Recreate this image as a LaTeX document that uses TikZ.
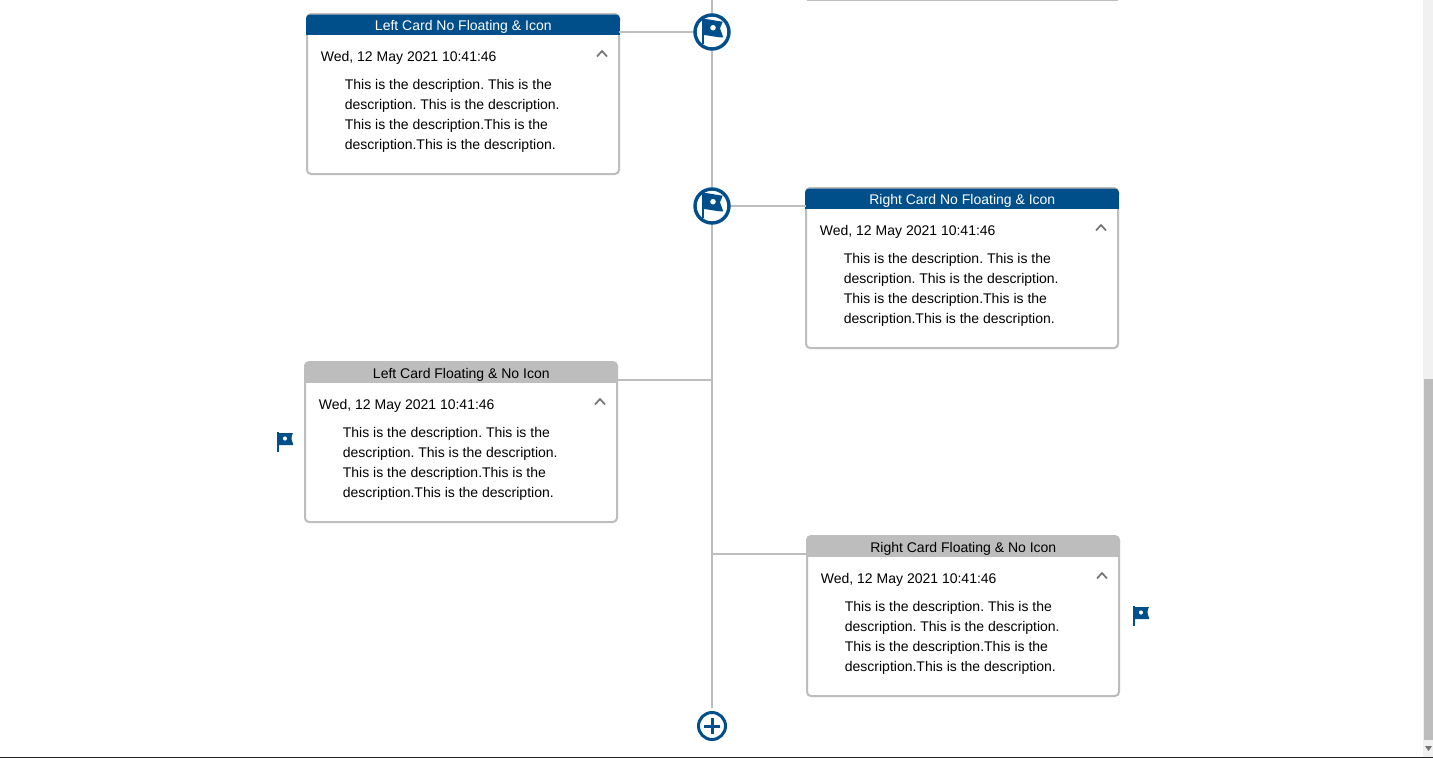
\documentclass[tikz,border=0pt]{standalone}
\usepackage{fontspec}
\setmainfont{Liberation Sans}
\definecolor{brandblue}{HTML}{004F8B}
\definecolor{linegray}{HTML}{BDBDBD}
\definecolor{chevgray}{HTML}{757575}
\definecolor{trackgray}{HTML}{F1F1F1}
\newcommand{\desctext}{This is the description. This is the\\description. This is the description.\\This is the description.This is the\\description.This is the description.}
% #1 name, #2 x, #3 y, #4 title, #5 header fill, #6 title colour
\newcommand{\timecard}[6]{%
  \node[cardbody] (#1) at (#2+157,#3+81) {};
  \fill[#5,rounded corners=4pt] (#2,#3+12) -- (#2,#3+1.5) -- (#2+314,#3+1.5) -- (#2+314,#3+12) -- cycle;
  \fill[#5] (#2,#3+8) rectangle (#2+314,#3+22);
  \node[cardtitle,text=#6] (#1title) at (#2+157.3,#3+14) {#4};
  \node[datetext] (#1date) at (#2+14.7,#3+45) {Wed, 12 May 2021 10:41:46};
  \node[desctextstyle] (#1desc) at (#2+38.7,#3+102.5) {\desctext};
  \draw[chevron] (#2+291,#3+43.5) -- (#2+296,#3+38) -- (#2+301,#3+43.5);
}
% large flag, centred on the ring: #1 centre
\newcommand{\bigflag}[1]{%
  \begin{scope}[shift={(#1)}]
    \fill[brandblue] (-10,-14) rectangle (-8,12);
    \fill[brandblue,even odd rule] (-8.2,-13) .. controls (-3,-13) and (4,-11) .. (10.7,-10.3) -- (8,-3.7) -- (11.3,5.5) .. controls (5,5.5) and (-2,3.5) .. (-8.2,3) -- cycle
      (1,-4.3) circle[radius=2.9];
  \end{scope}
}
% small flag, #1 top left of its pole
\newcommand{\smallflag}[1]{%
  \begin{scope}[shift={(#1)}]
    \fill[brandblue] (0,0) rectangle (1.8,20);
    \fill[brandblue,even odd rule] (1.5,1) -- (16,1) .. controls (14,4) and (14,8) .. (16,11.5) -- (16,13) -- (1.5,13) -- cycle
      (8,6.5) circle[radius=2.2];
  \end{scope}
}
\tikzset{
  x=1pt,y=-1pt,
  cardbody/.style={draw=linegray,line width=2pt,fill=white,rounded corners=4pt,minimum width=312pt,minimum height=160pt,inner sep=0pt,outer sep=0pt},
  cardtitle/.style={font=\fontsize{14}{16}\selectfont,inner sep=0pt,anchor=center},
  datetext/.style={font=\fontsize{14}{16}\selectfont,inner sep=0pt,anchor=west,text=black},
  desctextstyle/.style={font=\fontsize{14}{20}\selectfont,inner sep=0pt,anchor=west,align=left,text=black},
  chevron/.style={draw=chevgray,line width=1.7pt},
  connector/.style={draw=linegray,line width=2pt},
  iconring/.style={circle,draw=brandblue,line width=3.4pt,fill=white,minimum size=34pt,inner sep=0pt},
  plusring/.style={circle,draw=brandblue,line width=3pt,fill=white,minimum size=27pt,inner sep=0pt},
}
\begin{document}
\frenchspacing
\begin{tikzpicture}
\useasboundingbox (0,0) rectangle (1433,758);
\fill[white] (0,0) rectangle (1433,758);
% scrollbar
\fill[trackgray] (1423,0) rectangle (1433,757);
\fill[linegray] (1424,379) rectangle (1433,740);
\fill[chevgray] (1425,746) -- (1432,746) -- (1428.5,751) -- cycle;
\fill[black!85] (0,757) rectangle (1433,758);
% top card fragment
\coordinate (frag) at (807,0);
\draw[connector] (frag) -- (1118,0);
% connectors first, so that the rings sit on top
\coordinate (spinetop) at (712,0);
\coordinate (spineend) at (712,708);
\coordinate (nonec) at (712,32);
\coordinate (ntwoc) at (712,206);
\coordinate (n3) at (712,380);
\coordinate (n4) at (712,554);
\coordinate (plusc) at (712,726);
\timecard{lone}{306}{13}{Left Card No Floating \& Icon}{brandblue}{white}
\timecard{rone}{805}{187}{Right Card No Floating \& Icon}{brandblue}{white}
\timecard{ltwo}{304}{361}{Left Card Floating \& No Icon}{linegray}{black}
\timecard{rtwo}{806}{535}{Right Card Floating \& No Icon}{linegray}{black}
\draw[connector] (spinetop) -- (spineend);
\draw[connector] (lone.east |- nonec) -- (nonec);
\draw[connector] (ntwoc) -- (rone.west |- ntwoc);
\draw[connector] (ltwo.east |- n3) -- (n3);
\draw[connector] (n4) -- (rtwo.west |- n4);
\node[iconring] (n1) at (nonec) {};
\node[iconring] (n2) at (ntwoc) {};
\node[plusring] (plus) at (plusc) {};
% icons
\bigflag{712,32}
\bigflag{712,206}
\smallflag{277,432}
\smallflag{1133,606}
\draw[brandblue,line width=3pt] (plus.center) ++(-8,0) -- ++(16,0);
\draw[brandblue,line width=3pt] (plus.center) ++(0,-8) -- ++(0,16);
\end{tikzpicture}
\end{document}
